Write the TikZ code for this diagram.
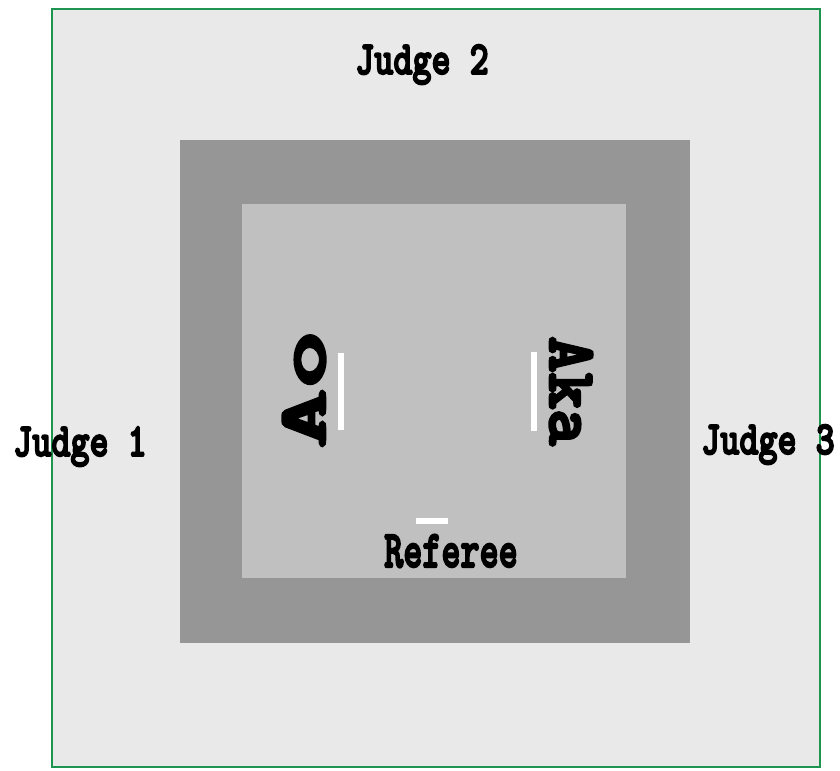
\documentclass[tikz,border=0pt]{standalone}
\usepackage{fontspec}
\usepackage{xcolor}
\usepackage{tikz}
\usetikzlibrary{positioning}
\newfontfamily\matfont{Latin Modern Mono Light}[FakeBold=4]
\definecolor{areagray}{RGB}{233,233,233}
\definecolor{safetygray}{RGB}{150,150,150}
\definecolor{matgray}{RGB}{192,192,192}
\definecolor{edgegreen}{RGB}{30,150,80}

\begin{document}
\begin{tikzpicture}[x=0.03cm, y=-0.03cm,
			judge/.style={inner sep=0, anchor=base, font=\matfont\bfseries\fontsize{31}{34}\selectfont},
			fighter/.style={inner sep=0, font=\matfont\bfseries\fontsize{58}{60}\selectfont},
			tapeline/.style={draw=white, line width=4.5pt},
		]
		\useasboundingbox (0,0) rectangle (840,770);
		\filldraw[fill=areagray, draw=edgegreen, line width=1.2pt] (52,9) rectangle (820,767);
		\fill[safetygray] (180,140) rectangle (690,643);
		\fill[matgray] (242,204) rectangle (626,578);

		\node[judge] (judgetwo) at (422,74) {\scalebox{1}[1.3]{Judge 2}};
		\node[judge] (judgeone) at (80,456) {\scalebox{1}[1.3]{Judge 1}};
		\node[judge] (judgethree) at (768,454) {\scalebox{1}[1.3]{Judge 3}};
		\node[judge] (referee) at (451,567) {\scalebox{1}[1.45]{Referee}};

		\node[fighter, rotate=90] (ao) at (304,389) {\scalebox{1.65}[1]{Ao}};
		\node[fighter, rotate=-90] (aka) at (571,391) {\scalebox{1.02}[1]{Aka}};

		\draw[tapeline] (341,353) -- (341,430);
		\draw[tapeline] (534,352) -- (534,431);
		\draw[tapeline] (416,521) -- (448,521);
		\end{tikzpicture}
\end{document}
